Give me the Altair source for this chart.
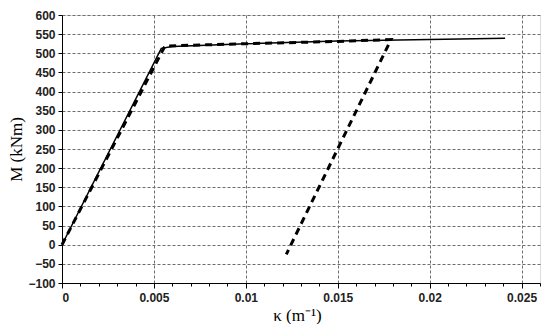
import altair as alt
import pandas as pd

# Monotonic (solid) curve
kappa_mono = [0, 0.0054, 0.0060, 0.010, 0.015, 0.020, 0.0241]
M_mono = [0, 513, 518, 525, 532, 536, 539]

# Cyclic / unloading (dashed) curve
kappa_cyc = [0, 0.0056, 0.010, 0.015, 0.0179, 0.0122]
M_cyc = [0, 519, 525, 531, 536, -25]

x_major = [0, 0.005, 0.01, 0.015, 0.02, 0.025]
x_minor = [i / 1000 for i in range(0, 27)]
y_ticks = list(range(-100, 601, 50))

df_mono = pd.DataFrame({"k": kappa_mono, "M": M_mono, "i": range(len(kappa_mono))})
df_cyc = pd.DataFrame({"k": kappa_cyc, "M": M_cyc, "i": range(len(kappa_cyc))})

xscale = alt.Scale(domain=[0, 0.026], nice=False, zero=False)
yscale = alt.Scale(domain=[-100, 600], nice=False)

label_font = "Liberation Sans"
title_font = "Liberation Serif"

x_axis = alt.Axis(
    values=x_major, format=".3~f", grid=True, gridDash=[3, 2], gridColor="#6e6e6e",
    gridWidth=1, tickSize=5, tickColor="#000", domainColor="#000",
    labelFont=label_font, labelFontSize=12, labelColor="#222", labelPadding=4,
    labelFontWeight="bold",
    title="κ (m⁻¹)", titleFont=title_font, titleFontSize=17, titleFontWeight="normal",
    titleColor="#000", titleX=235, titleY=32, titleBaseline="middle", orient="bottom",
)
y_axis = alt.Axis(
    values=y_ticks, grid=True, gridDash=[3, 2], gridColor="#6e6e6e", gridWidth=1,
    tickSize=4, tickColor="#000", domainColor="#000",
    labelFont=label_font, labelFontSize=12, labelColor="#222", labelPadding=3,
    labelFontWeight="bold",
    title="M (kNm)", titleFont=title_font, titleFontSize=17, titleFontWeight="normal",
    titleColor="#000", titleX=-46, titleY=134, titleAlign="center", titleBaseline="middle",
)

mono = alt.Chart(df_mono).mark_line(color="black", strokeWidth=1.5).encode(
    x=alt.X("k:Q", scale=xscale, axis=x_axis),
    y=alt.Y("M:Q", scale=yscale, axis=y_axis),
    order="i:Q",
)

cyc = alt.Chart(df_cyc).mark_line(color="black", strokeWidth=3, strokeDash=[7, 5]).encode(
    x=alt.X("k:Q", scale=xscale, axis=alt.Axis(
        values=x_minor, labels=False, grid=False, domain=False, tickSize=3,
        tickColor="#000", title=None, orient="bottom")),
    y=alt.Y("M:Q", scale=yscale, axis=y_axis),
    order="i:Q",
)

chart = (
    alt.layer(mono, cyc)
    .resolve_axis(x="independent")
    .properties(
        width=478, height=268,
        autosize=alt.AutoSizeParams(type="none"),
        padding={"left": 54, "top": 7, "right": 2, "bottom": 41},
    )
    .configure_view(strokeWidth=0)
    .configure(background="white")
)

chart.save("out.html", embed_options={"renderer": "svg", "actions": False})
